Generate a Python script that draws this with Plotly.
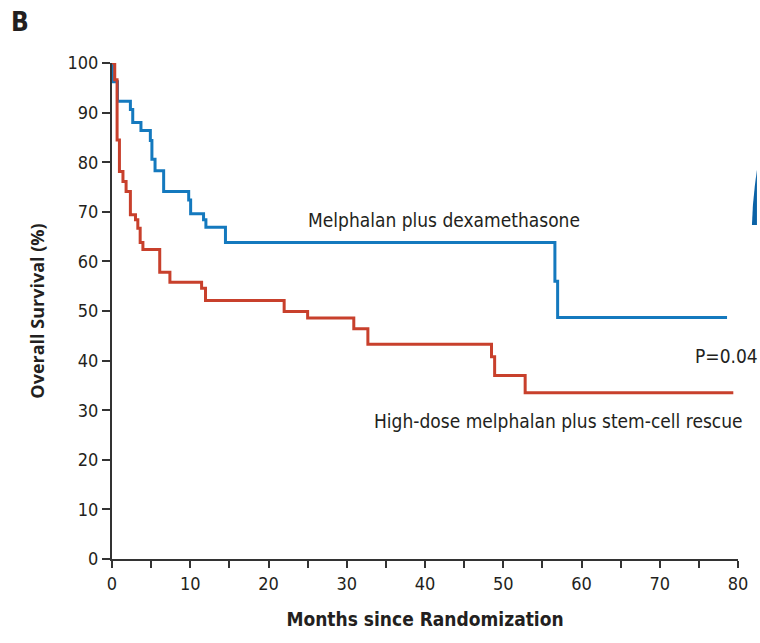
import plotly.graph_objects as go

# Melphalan plus dexamethasone (blue)
blue_months = [0, 0.05, 0.7, 2.35, 2.65, 3.7, 4.9, 5.1, 5.5, 6.6, 9.8, 10.05, 11.7, 12.0, 14.5, 56.6, 56.95, 78.6]
blue_surv = [100, 96.2, 92.3, 90.6, 88.0, 86.4, 84.4, 80.6, 78.3, 74.1, 72.4, 69.6, 68.4, 66.9, 63.8, 56.0, 48.7, 48.7]

# High-dose melphalan plus stem-cell rescue (red)
red_months = [0, 0.35, 0.65, 0.95, 1.4, 1.8, 2.35, 3.0, 3.3, 3.6, 3.95, 6.1, 7.4, 11.45, 11.95,
              22.0, 25.0, 30.9, 32.7, 48.5, 48.9, 52.8, 79.4]
red_surv = [100, 96.6, 84.5, 78.1, 76.1, 74.1, 69.4, 68.4, 66.7, 63.8, 62.4, 57.8, 55.8, 54.6, 52.1,
            49.9, 48.6, 46.4, 43.3, 40.8, 37.0, 33.5, 33.5]

x_ticks = list(range(0, 81, 10))
y_ticks = list(range(0, 101, 10))

BLUE = "#1479be"
RED = "#c8402c"
FONT = "Liberation Sans Narrow, DejaVu Sans Condensed, sans-serif"
TXT = "#231f20"

W, H = 760, 643
ML, MR, MT, MB = 112, 19, 63, 84
PW, PH = W - ML - MR, H - MT - MB


def px(x):
    return (x - ML) / PW


def py(y):
    return (H - MB - y) / PH


fig = go.Figure()
fig.add_trace(go.Scatter(x=blue_months, y=blue_surv, mode="lines", line=dict(color=BLUE, width=3, shape="hv"),
                         showlegend=False, cliponaxis=False))
fig.add_trace(go.Scatter(x=red_months, y=red_surv, mode="lines", line=dict(color=RED, width=3, shape="hv"),
                         showlegend=False, cliponaxis=False))

fig.update_layout(
    width=W, height=H,
    margin=dict(l=ML, r=MR, t=MT, b=MB),
    plot_bgcolor="white", paper_bgcolor="white",
    font=dict(family=FONT, size=18, color=TXT),
)
fig.update_xaxes(range=[0, 80], tickvals=x_ticks, showgrid=False, zeroline=False,
                 showline=True, linecolor="#333", linewidth=2,
                 ticks="outside", ticklen=7, tickwidth=2, tickcolor="#333",
                 minor=dict(dtick=5, ticks="outside", ticklen=7, tickwidth=2, tickcolor="#333"),
                 tickfont=dict(size=18, family=FONT),
                 title=dict(text="<b>Months since Randomization</b>", standoff=20,
                            font=dict(size=19, family=FONT)))
fig.update_yaxes(range=[0, 100], tickvals=y_ticks, showgrid=False, zeroline=False,
                 showline=True, linecolor="#333", linewidth=2,
                 ticks="outside", ticklen=8, tickwidth=2, tickcolor="#333",
                 tickfont=dict(size=18, family=FONT),
                 title=dict(text="<b>Overall Survival (%)</b>", standoff=18,
                            font=dict(size=18, family="Open Sans, sans-serif")))

fig.add_annotation(x=24.8, y=68.4, text="Melphalan plus dexamethasone", showarrow=False,
                   xanchor="left", yanchor="middle", font=dict(size=19, family=FONT, color=TXT))
fig.add_annotation(x=33.2, y=27.9, text="High-dose melphalan plus stem-cell rescue", showarrow=False,
                   xanchor="left", yanchor="middle", font=dict(size=19, family=FONT, color=TXT))
fig.add_annotation(x=74.3, y=41.0, text="P=0.04", showarrow=False,
                   xanchor="left", yanchor="middle", font=dict(size=19, family=FONT, color=TXT))
fig.add_annotation(x=px(9), y=py(5), xref="paper", yref="paper", text="<b>B</b>", showarrow=False,
                   xanchor="left", yanchor="top",
                   font=dict(size=26, family=FONT, color=TXT))

# fragment of the neighbouring panel at the right edge
pts = [(755, 225), (760, 225), (760, 170), (758, 185), (756, 205)]
path = "M " + " L ".join(f"{px(a):.5f},{py(b):.5f}" for a, b in pts) + " Z"
fig.add_shape(type="path", path=path, xref="paper", yref="paper",
              fillcolor="#0b62a6", line=dict(width=0))

fig.write_html("out.html")
